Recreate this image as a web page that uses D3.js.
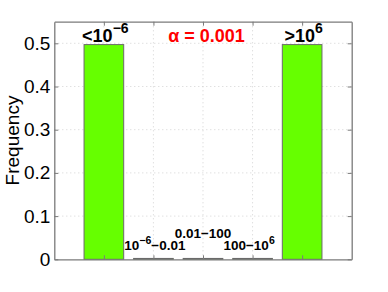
<!DOCTYPE html>
<html><head><meta charset="utf-8">
<script src="https://cdn.jsdelivr.net/npm/d3@7"></script>
<style>body{margin:0;background:#fff}svg{display:block}text{font-family:"Liberation Sans",Arial,sans-serif}</style>
</head><body>
<script>
const categories = [1, 2, 3, 4, 5];
const values = [0.497, 0.002, 0.002, 0.002, 0.497];
const yTicks = [0, 0.1, 0.2, 0.3, 0.4, 0.5];
const barLabels = [
  {base: "<10", sup: "−6", tail: ""},
  {base: "10", sup: "−6", tail: "−0.01"},
  {base: "0.01−100", sup: "", tail: ""},
  {base: "100−10", sup: "6", tail: ""},
  {base: ">10", sup: "6", tail: ""}
];
const title = "α = 0.001";

const W = 388, H = 292;
const m = {l: 54.3, r: 388 - 351.7, t: 21.7, b: 292 - 259.3};
const svg = d3.select("body").append("svg").attr("width", W).attr("height", H);
const x = d3.scaleLinear().domain([0, 6]).range([m.l, W - m.r]);
const y = d3.scaleLinear().domain([0, 0.55]).range([H - m.b, m.t]);
const axisCol = "#7a7a7a";

// grid
const g = svg.append("g");
g.selectAll(".gx").data(categories).enter().append("line")
  .attr("x1", d => x(d)).attr("x2", d => x(d)).attr("y1", y(0)).attr("y2", y(0.55))
  .attr("stroke", "#c8c8c8").attr("stroke-width", 0.8).attr("stroke-dasharray", "1,3");
g.selectAll(".gy").data(yTicks.slice(1)).enter().append("line")
  .attr("x1", x(0)).attr("x2", x(6)).attr("y1", d => y(d)).attr("y2", d => y(d))
  .attr("stroke", "#c8c8c8").attr("stroke-width", 0.8).attr("stroke-dasharray", "1,3");

// bars
const bw = x(0.8) - x(0);
svg.selectAll(".bar").data(values).enter().append("rect")
  .attr("x", (d, i) => x(categories[i]) - bw / 2)
  .attr("width", bw)
  .attr("y", d => y(d))
  .attr("height", d => y(0) - y(d))
  .attr("fill", "#66ff00").attr("stroke", "#6a6a6a").attr("stroke-width", 1);

// axes
const axL = svg.append("g").attr("transform", `translate(${x(0)},0)`)
  .call(d3.axisLeft(y).tickValues(yTicks).tickFormat(d => d === 0 ? "0" : d3.format(".1f")(d)).tickSizeInner(-4).tickSizeOuter(0).tickPadding(4));
const axR = svg.append("g").attr("transform", `translate(${x(6)},0)`)
  .call(d3.axisRight(y).tickValues(yTicks).tickFormat("").tickSizeInner(-4).tickSizeOuter(0));
const axB = svg.append("g").attr("transform", `translate(0,${y(0)})`)
  .call(d3.axisBottom(x).tickValues(categories).tickFormat("").tickSizeInner(-4).tickSizeOuter(0));
const axT = svg.append("g").attr("transform", `translate(0,${y(0.55)})`)
  .call(d3.axisTop(x).tickValues(categories).tickFormat("").tickSizeInner(-4).tickSizeOuter(0));
[axL, axR, axB, axT].forEach(a => {
  a.selectAll("path,line").attr("stroke", axisCol);
  a.select("path").attr("stroke-width", 1.3);
});
axL.selectAll("text").attr("font-size", 19).attr("fill", "#000");

// y label
svg.append("text").attr("transform", `translate(19,${(y(0) + y(0.55)) / 2}) rotate(-90)`)
  .attr("text-anchor", "middle").attr("font-size", 19).text("Frequency");

// title
svg.append("text").attr("x", x(3.07)).attr("y", 41.7).attr("text-anchor", "middle")
  .attr("font-size", 18).attr("font-weight", "bold").attr("fill", "#ff0000").text(title);

// bar labels
const labPos = [
  {xi: 2.03, y: 250, fs: 13.5},
  {xi: 3.0, y: 237.5, fs: 13.5},
  {xi: 3.93, y: 250, fs: 13.5}
];
const topPos = [{xi: 1.03, y: 41.5, fs: 18}, {xi: 5.03, y: 41.5, fs: 18}];
const allPos = [topPos[0], labPos[0], labPos[1], labPos[2], topPos[1]];
barLabels.forEach((b, i) => {
  const p = allPos[i];
  const t = svg.append("text").attr("x", x(p.xi)).attr("y", p.y).attr("text-anchor", "middle")
    .attr("font-size", p.fs).attr("font-weight", "bold");
  t.append("tspan").text(b.base);
  if (b.sup) t.append("tspan").attr("dy", -p.fs * 0.45).attr("font-size", p.fs * 0.78).text(b.sup);
  if (b.tail) t.append("tspan").attr("dy", p.fs * 0.45).text(b.tail);
});
</script>
</body></html>
